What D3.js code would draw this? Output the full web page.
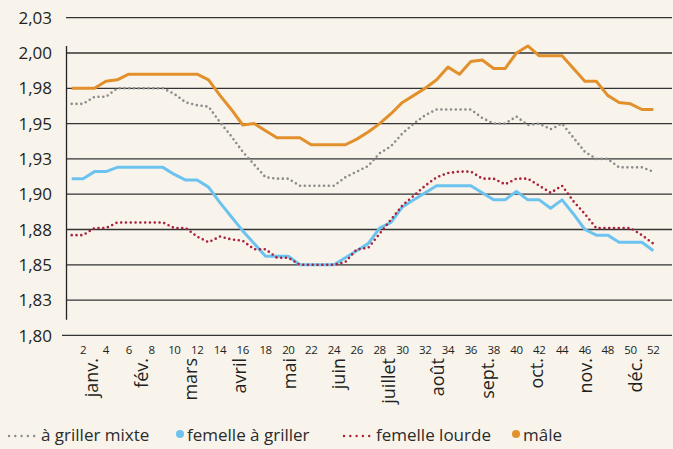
<!DOCTYPE html>
<html>
<head>
<meta charset="utf-8">
<script src="https://cdn.jsdelivr.net/npm/d3@7"></script>
<style>
    body { margin: 0; background: #f8f4ec; }
    svg { display: block; font-family: "Open Sans", "Noto Sans", sans-serif; }
</style>
</head>
<body>
<div id="chart"></div>
<script>
const weeks = d3.range(1, 53);
const weekLabels = d3.range(2, 53, 2);
const months = ["janv.", "fév.", "mars", "avril", "mai", "juin", "juillet", "août", "sept.", "oct.", "nov.", "déc."];
const yTicks = [1.80, 1.825, 1.85, 1.875, 1.90, 1.925, 1.95, 1.975, 2.00, 2.025];
const yTickLabels = ["1,80", "1,83", "1,85", "1,88", "1,90", "1,93", "1,95", "1,98", "2,00", "2,03"];

const grillerMixte = [1.964, 1.964, 1.969, 1.969, 1.975, 1.975, 1.975, 1.975, 1.975, 1.971,
    1.965, 1.963, 1.962, 1.951, 1.941, 1.930, 1.921, 1.912, 1.911, 1.911,
    1.906, 1.906, 1.906, 1.906, 1.912, 1.916, 1.920, 1.929, 1.934, 1.943,
    1.950, 1.956, 1.960, 1.960, 1.960, 1.960, 1.954, 1.950, 1.950, 1.955,
    1.949, 1.950, 1.946, 1.950, 1.940, 1.930, 1.925, 1.925, 1.919, 1.919,
    1.919, 1.916];
const femelleGriller = [1.911, 1.911, 1.916, 1.916, 1.919, 1.919, 1.919, 1.919, 1.919, 1.914,
    1.910, 1.910, 1.905, 1.894, 1.884, 1.874, 1.865, 1.856, 1.856, 1.856,
    1.850, 1.850, 1.850, 1.850, 1.855, 1.860, 1.865, 1.876, 1.880, 1.891,
    1.896, 1.901, 1.906, 1.906, 1.906, 1.906, 1.901, 1.896, 1.896, 1.902,
    1.896, 1.896, 1.890, 1.896, 1.886, 1.875, 1.871, 1.871, 1.866, 1.866,
    1.866, 1.860];
const femelleLourde = [1.871, 1.871, 1.876, 1.876, 1.880, 1.880, 1.880, 1.880, 1.880, 1.876,
    1.876, 1.870, 1.866, 1.870, 1.868, 1.867, 1.861, 1.861, 1.855, 1.855,
    1.850, 1.850, 1.850, 1.850, 1.852, 1.861, 1.862, 1.872, 1.882, 1.892,
    1.899, 1.906, 1.912, 1.915, 1.916, 1.916, 1.911, 1.911, 1.907, 1.911,
    1.911, 1.906, 1.901, 1.906, 1.895, 1.886, 1.876, 1.876, 1.876, 1.876,
    1.871, 1.865];
const male = [1.975, 1.975, 1.975, 1.980, 1.981, 1.985, 1.985, 1.985, 1.985, 1.985,
    1.985, 1.985, 1.981, 1.970, 1.960, 1.949, 1.950, 1.945, 1.940, 1.940,
    1.940, 1.935, 1.935, 1.935, 1.935, 1.939, 1.944, 1.950, 1.957, 1.965,
    1.970, 1.975, 1.981, 1.990, 1.985, 1.994, 1.995, 1.989, 1.989, 2.000,
    2.005, 1.998, 1.998, 1.998, 1.989, 1.980, 1.980, 1.970, 1.965, 1.964,
    1.960, 1.960];

const series = [
    { name: "à griller mixte", values: grillerMixte, color: "#8b8b8b", dotted: true },
    { name: "femelle à griller", values: femelleGriller, color: "#6cc3ef", dotted: false },
    { name: "femelle lourde", values: femelleLourde, color: "#a8203c", dotted: true },
    { name: "mâle", values: male, color: "#e1902b", dotted: false }
];

const dim = { width: 673, height: 449 };
const margin = { left: 66, right: 14, top: 17.7, bottom: 113.6 };
const gridRight = 672;

const svg = d3.select("#chart").append("svg")
    .attr("width", dim.width)
    .attr("height", dim.height);

const xScale = d3.scaleBand()
    .domain(weeks)
    .range([margin.left, dim.width - margin.right]);
const xc = d => xScale(d) + xScale.bandwidth() / 2;

const monthScale = d3.scaleBand()
    .domain(months)
    .range([margin.left, dim.width - margin.right]);

const yScale = d3.scaleLinear()
    .domain([1.80, 2.025])
    .range([dim.height - margin.bottom, margin.top]);

// grid lines
svg.selectAll(".grid")
    .data(yTicks)
    .enter().append("line")
    .attr("class", "grid")
    .attr("x1", d => d === 1.80 ? 62 : margin.left)
    .attr("x2", gridRight)
    .attr("y1", d => yScale(d))
    .attr("y2", d => yScale(d))
    .attr("stroke", "#333")
    .attr("stroke-width", 1.3);

// vertical axis line
svg.append("line")
    .attr("x1", margin.left + 0.5)
    .attr("x2", margin.left + 0.5)
    .attr("y1", yScale(2.005))
    .attr("y2", yScale(1.811))
    .attr("stroke", "#222")
    .attr("stroke-width", 1.3);

svg.selectAll(".yLabel")
    .data(yTicks)
    .enter().append("text")
    .attr("class", "yLabel")
    .attr("x", 52)
    .attr("y", d => yScale(d))
    .attr("dy", "0.36em")
    .attr("text-anchor", "end")
    .attr("font-size", 17)
    .attr("fill", "#231f20")
    .text((d, i) => yTickLabels[i]);

svg.selectAll(".weekLabel")
    .data(weekLabels)
    .enter().append("text")
    .attr("class", "weekLabel")
    .attr("x", d => xc(d))
    .attr("y", 353.5)
    .attr("text-anchor", "middle")
    .attr("font-size", 11.5)
    .attr("letter-spacing", -0.4)
    .attr("fill", "#231f20")
    .text(d => d);

svg.selectAll(".monthLabel")
    .data(months)
    .enter().append("text")
    .attr("class", "monthLabel")
    .attr("transform", d => `translate(${monthScale(d) + monthScale.bandwidth() / 2 + 1},358) rotate(-90)`)
    .attr("dy", "0.36em")
    .attr("text-anchor", "end")
    .attr("font-size", 18)
    .attr("fill", "#231f20")
    .text(d => d);

const line = d3.line()
    .x((d, i) => xc(weeks[i]))
    .y(d => yScale(d));

svg.selectAll(".series")
    .data(series)
    .enter().append("path")
    .attr("class", "series")
    .attr("d", d => line(d.values))
    .attr("fill", "none")
    .attr("stroke", d => d.color)
    .attr("stroke-width", d => d.dotted ? 2.6 : 3)
    .attr("stroke-linecap", d => d.dotted ? "round" : "butt")
    .attr("stroke-linejoin", "round")
    .attr("stroke-dasharray", d => d.dotted ? "0,4.8" : null);

// legend
const legendX = [8, 176, 343, 512];
const legend = svg.selectAll(".legend")
    .data(series)
    .enter().append("g")
    .attr("class", "legend")
    .attr("transform", (d, i) => `translate(${legendX[i]},434)`);

legend.filter(d => d.dotted).append("line")
    .attr("x1", 1)
    .attr("x2", 26.5)
    .attr("y1", 2)
    .attr("y2", 2)
    .attr("stroke", d => d.color)
    .attr("stroke-width", 2.4)
    .attr("stroke-linecap", "round")
    .attr("stroke-dasharray", "0,6.3");

legend.filter(d => !d.dotted).append("circle")
    .attr("cx", 4)
    .attr("cy", 0)
    .attr("r", 4)
    .attr("fill", d => d.color);

legend.append("text")
    .attr("x", d => d.dotted ? 33 : 11)
    .attr("y", 6.5)
    .attr("font-size", 17)
    .attr("fill", "#2b2b2b")
    .text(d => d.name);
</script>
</body>
</html>
